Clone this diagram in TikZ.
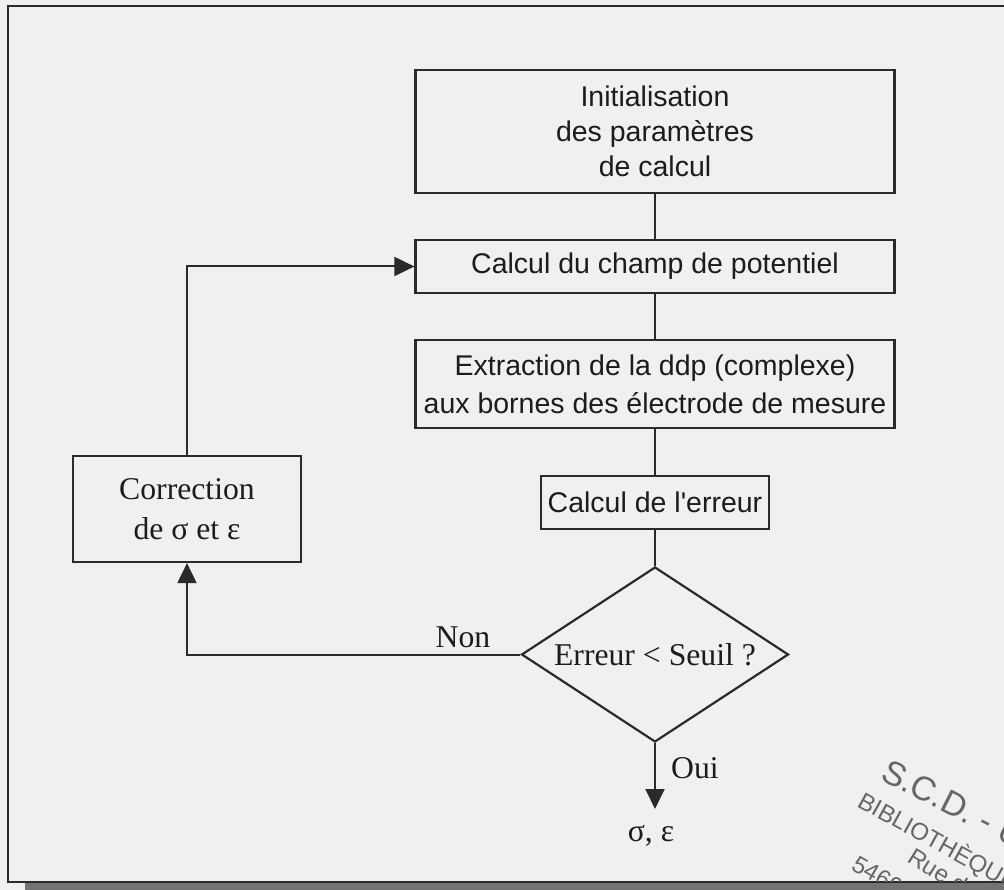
\documentclass[tikz,border=0pt]{standalone}
\usepackage{fontspec}
\setmainfont{Liberation Serif}
\newfontfamily\arialf{Liberation Sans}
\usetikzlibrary{shapes.geometric,arrows.meta}
\definecolor{ink}{HTML}{2A2A2A}
\definecolor{txt}{HTML}{1C1C1C}
\definecolor{bgc}{HTML}{F0F0F0}
\definecolor{stampc}{HTML}{666666}
\begin{document}
\begin{tikzpicture}[x=1pt,y=-1pt,
  boxa/.style={draw=ink, line width=2.2pt, rectangle, inner sep=0pt, align=center, text=txt,
    font=\arialf\fontsize{28.5}{35}\selectfont},
  boxt/.style={draw=ink, line width=2.2pt, rectangle, inner sep=0pt, align=center, text=txt,
    font=\fontsize{31.7}{40}\selectfont},
  decis/.style={draw=ink, line width=2.2pt, diamond, aspect=1.53, inner sep=0pt, text=txt,
    font=\fontsize{31.7}{38}\selectfont},
  lbl/.style={text=txt, inner sep=0pt, font=\fontsize{31.7}{38}\selectfont},
  conn/.style={draw=ink, line width=2pt},
  arr/.style={conn, -{Triangle[length=20pt,width=19pt]}},
  stamptxt/.style={text=stampc, inner sep=0pt, anchor=base west}
]
\useasboundingbox (0,0) rectangle (1004,890);
\fill[bgc] (0,0) rectangle (1004,890);
% frame and shadow
\fill[black!55] (25,883) rectangle (1004,890);
\draw[ink, line width=2.4pt] (1010,6) -- (8,6) -- (8,882) -- (1010,882);

% stamp (clipped)
\begin{scope}
\clip (0,0) rectangle (1004,881);
\node[stamptxt, rotate=-27, font=\arialf\fontsize{34}{40}\selectfont] (st1) at (879,779) {S.C.D. - U};
\node[stamptxt, rotate=-29, font=\arialf\fontsize{24}{28}\selectfont] (st2) at (856,806) {BIBLIOTHÈQUE};
\node[stamptxt, rotate=-32, font=\arialf\fontsize{24}{28}\selectfont] (st3) at (906,861) {Rue du};
\node[stamptxt, rotate=-30, font=\arialf\fontsize{24}{28}\selectfont] (st4) at (850,869) {54600};
\end{scope}

% boxes
\node[boxa, minimum width=479pt, minimum height=123pt] (init) at (655,131.5)
  {Initialisation\\des paramètres\\de calcul};
\node[boxa, minimum width=479pt, minimum height=53pt] (champ) at (655,266.5)
  {Calcul du champ de potentiel};
\node[boxa, minimum width=479pt, minimum height=88pt, font=\arialf\fontsize{28.5}{38}\selectfont] (extr) at (655,384)
  {Extraction de la ddp (complexe)\\aux bornes des électrode de mesure};
\node[boxa, minimum width=228pt, minimum height=53pt] (err) at (655,502.5)
  {Calcul de l'erreur};
\node[decis, minimum width=267pt, minimum height=175pt] (dec) at (655,654.5)
  {Erreur < Seuil ?};
\node[boxt, minimum width=228pt, minimum height=106pt] (corr) at (187,509)
  {Correction\\de σ et ε};
\node[lbl] (res) at (651,836) {σ, ε};
\node[lbl] (oui) at (695,768) {Oui};
\node[lbl] (non) at (463,637) {Non};
\coordinate (tip) at (655,809);

% connectors
\draw[conn] (init.south) -- (champ.north);
\draw[conn] (champ.south) -- (extr.north);
\draw[conn] (extr.south) -- (err.north);
\draw[conn] (err.south) -- (dec.north);
\draw[arr] (dec.south) -- (tip);
\draw[arr] (dec.west) -| (corr.south);
\draw[arr] (corr.north) |- (champ.west);
\end{tikzpicture}
\end{document}
